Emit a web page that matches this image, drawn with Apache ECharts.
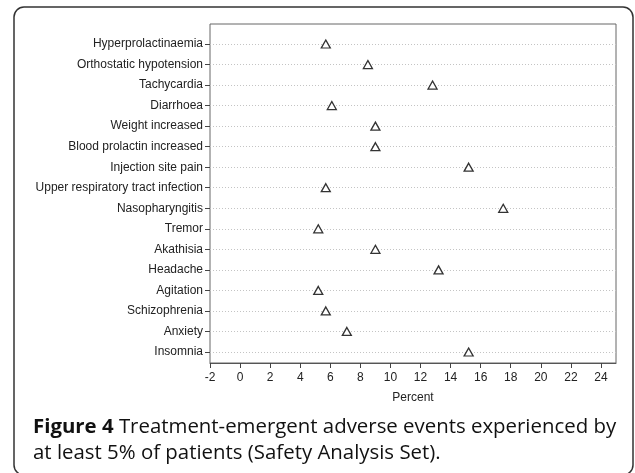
<!DOCTYPE html>
<html>
<head>
<meta charset="utf-8">
<style>
  html, body { margin: 0; padding: 0; background: #fff; }
  #chart { width: 635px; height: 473px; }
</style>
<script src="https://cdn.jsdelivr.net/npm/echarts@6/dist/echarts.min.js"></script>
</head>
<body>
<div id="chart"></div>
<script>
// adverse events, top to bottom as drawn
const events = [
  'Hyperprolactinaemia',
  'Orthostatic hypotension',
  'Tachycardia',
  'Diarrhoea',
  'Weight increased',
  'Blood prolactin increased',
  'Injection site pain',
  'Upper respiratory tract infection',
  'Nasopharyngitis',
  'Tremor',
  'Akathisia',
  'Headache',
  'Agitation',
  'Schizophrenia',
  'Anxiety',
  'Insomnia'
];

// percent of patients
const percents = [5.7, 8.5, 12.8, 6.1, 9.0, 9.0, 15.2, 5.7, 17.5, 5.2, 9.0, 13.2, 5.2, 5.7, 7.1, 15.2];

const xMin = -2;
const xMax = 25;
const xStep = 2;

const captionBold = 'Figure 4';
const captionLine1 = ' Treatment-emergent adverse events experienced by';
const captionLine2 = 'at least 5% of patients (Safety Analysis Set).';

const chart = echarts.init(document.getElementById('chart'), null, { renderer: 'canvas' });

const labelFont = 'Liberation Sans, Arial, sans-serif';

const option = {
  backgroundColor: '#fff',
  animation: false,
  grid: [
    // plot frame with the percent axis
    { left: 210, right: 19, top: 24, bottom: 110, show: true, borderColor: '#666', borderWidth: 1, backgroundColor: 'transparent' },
    // rows of events
    { left: 210, right: 19, top: 44, bottom: 121 }
  ],
  xAxis: [
    {
      gridIndex: 0,
      type: 'value',
      min: xMin,
      max: xMax,
      interval: xStep,
      name: 'Percent',
      nameLocation: 'middle',
      nameGap: 29,
      nameTextStyle: { fontFamily: labelFont, fontSize: 12, color: '#222' },
      axisLine: { show: true, lineStyle: { color: '#555', width: 1 } },
      axisTick: { show: true, length: 5, lineStyle: { color: '#444' } },
      axisLabel: { fontFamily: labelFont, fontSize: 12, color: '#222', margin: 9, showMaxLabel: false },
      splitLine: { show: false }
    },
    {
      gridIndex: 1,
      type: 'value',
      min: xMin,
      max: xMax,
      interval: xStep,
      show: false
    }
  ],
  yAxis: [
    { gridIndex: 0, type: 'value', show: false },
    {
      gridIndex: 1,
      type: 'category',
      data: events,
      inverse: true,
      boundaryGap: false,
      axisLine: { show: false, onZero: false },
      axisTick: { show: true, length: 5, lineStyle: { color: '#444' } },
      axisLabel: { fontFamily: labelFont, fontSize: 12, color: '#222', margin: 7, interval: 0 },
      splitLine: { show: true, interval: 0, lineStyle: { color: '#c4c4c4', type: [1, 2], width: 1 } }
    }
  ],
  series: [
    {
      type: 'scatter',
      xAxisIndex: 1,
      yAxisIndex: 1,
      symbol: 'triangle',
      symbolSize: [9, 8],
      itemStyle: { color: '#fff', borderColor: '#333', borderWidth: 1.3, opacity: 1 },
      data: events.map((name, i) => [percents[i], name])
    }
  ],
  graphic: [
    {
      type: 'rect',
      shape: { x: 14, y: 7, width: 619, height: 468, r: 10 },
      style: { fill: 'none', stroke: '#333', lineWidth: 1.5 },
      silent: true
    },
    {
      type: 'text',
      left: 33,
      top: 417,
      style: {
        text: '{b|' + captionBold + '}' + captionLine1,
        font: '20.4px "Open Sans", sans-serif',
        fill: '#111',
        rich: { b: { fontWeight: 'bold', fontSize: 20.4, fontFamily: 'Open Sans', fill: '#111' } }
      }
    },
    {
      type: 'text',
      left: 33,
      top: 443,
      style: {
        text: captionLine2,
        font: '20.4px "Open Sans", sans-serif',
        fill: '#111'
      }
    }
  ]
};

chart.setOption(option);
</script>
</body>
</html>
